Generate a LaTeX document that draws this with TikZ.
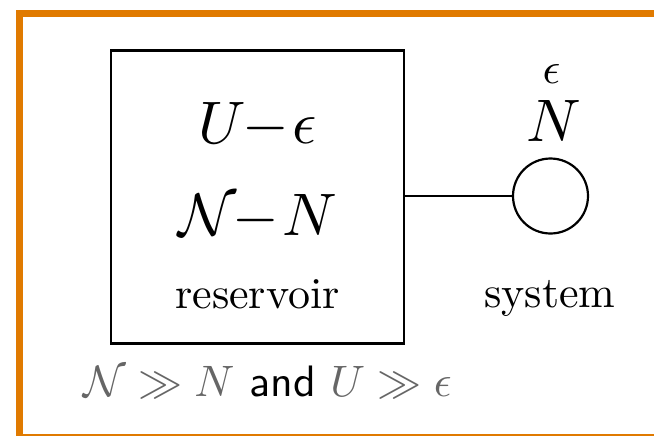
\documentclass[tikz,border=0pt]{standalone}
\usepackage{amsmath}
\usepackage{graphicx}
\usepackage{tikz}
\usetikzlibrary{positioning}
\definecolor{frameorange}{RGB}{224,122,0}
\newcommand{\scaledmath}[1]{\scalebox{3}{#1}}
\newcommand{\scaledtext}[1]{\scalebox{2.2}{#1}}

\begin{document}
\begin{tikzpicture}[
        x=0.5pt, y=-0.5pt,
        resbox/.style = {draw, line width=1.1pt, minimum size=146.5pt, inner sep=0pt},
        sysnode/.style = {circle, draw, line width=1.1pt, minimum size=37.5pt, inner sep=0pt},
        lbl/.style = {anchor=base, inner sep=0pt}
    ]
        \useasboundingbox (0,0) rectangle (654,435);
        % orange frame, cut off on the right and bottom
        \draw[frameorange, line width=3.5pt] (680,437.5) -- (19,437.5) -- (19,13) -- (680,13);

        \node[resbox]  (res) at (257.5,197) {};
        \node[sysnode] (sys) at (550.5,196) {};
        \draw[line width=1.1pt] (res.east |- sys.west) -- (sys.west);

        \node[lbl] (uminus) at (258,143)   {\scaledmath{$U\mkern-1mu{-}\mkern1mu\epsilon$}};
        \node[lbl] (nminus) at (258,235)   {\scaledmath{$\mathcal{N}\mkern-1mu{-}\mkern1mu N$}};
        \node[lbl] (reslbl) at (257.5,308) {\scaledtext{reservoir}};

        \node[lbl] (eps)    at (551.5,83)  {\scaledtext{$\epsilon$}};
        \node[lbl] (num)    at (554,141.7) {\scaledmath{$N$}};
        \node[lbl] (syslbl) at (550,307)   {\scaledtext{system}};

        \node[lbl] (cond)   at (267.5,396)
            {\scaledtext{\color{black!60}$\mathcal{N} \gg N$\ \color{black}\textsf{and}\ \color{black!60}$U \gg \epsilon$}};
    \end{tikzpicture}
\end{document}
